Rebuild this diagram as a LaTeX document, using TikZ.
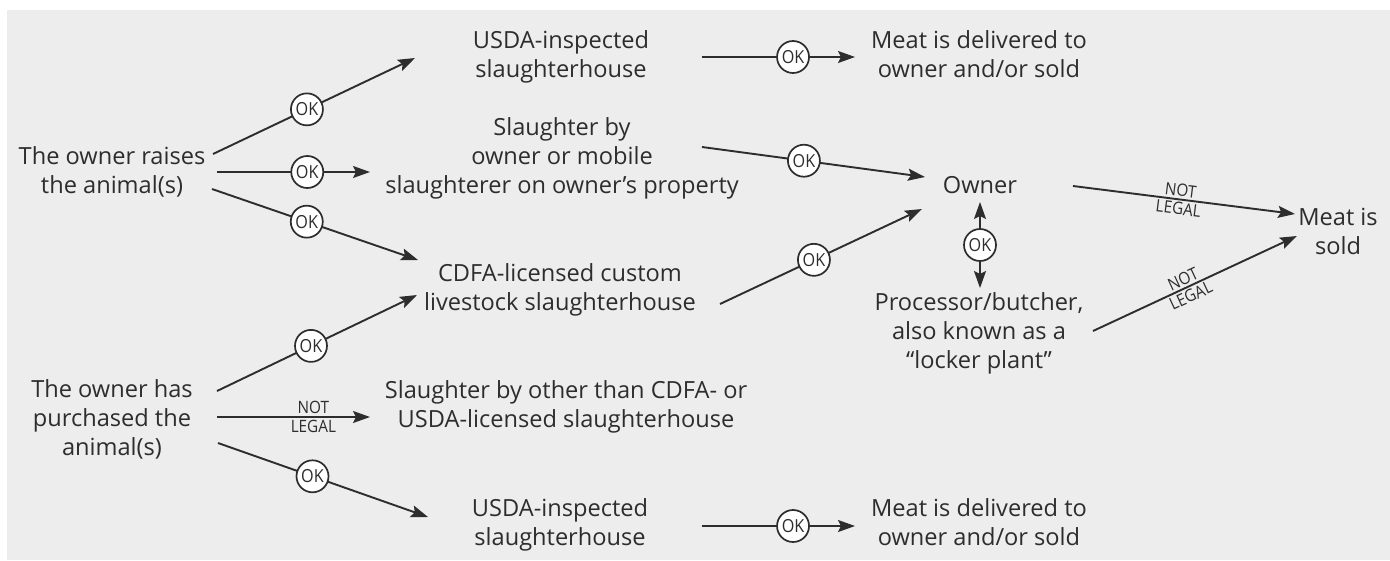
\documentclass[tikz,border=0pt]{standalone}
\usepackage{fontspec}
\setmainfont{Open Sans}
\newfontfamily\condf[FakeStretch=0.9]{Open Sans}
\usetikzlibrary{arrows.meta,calc}
\definecolor{bgc}{RGB}{237,237,237}
\definecolor{ink}{RGB}{45,45,45}
\tikzset{
  txt/.style={align=center, text=ink, font=\fontsize{23.6}{28.6}\selectfont, inner sep=0pt, anchor=base},
  >={Stealth[length=17pt,width=12pt,inset=3pt]},
  conn/.style={draw=ink, line width=1.9pt, ->},
  biconn/.style={draw=ink, line width=1.9pt, <->},
  okc/.style={circle, draw=ink, fill=white, line width=1.7pt, minimum size=32pt, inner sep=0pt, text=ink, font=\condf\fontsize{18}{18}\selectfont},
  nl/.style={text=ink, font=\condf\fontsize{17}{17}\selectfont, inner sep=2pt}
}
\begin{document}
\begin{tikzpicture}[x=1pt,y=-1pt]
\useasboundingbox (0,0) rectangle (1390,560);
\fill[bgc] (7,10) rectangle (1390,560);

\node[txt] (raise) at (112,193) {The owner raises\\the animal(s)};
\node[txt] (usdaA) at (561,77) {USDA-inspected\\slaughterhouse};
\node[txt] (meatA) at (979,77) {Meat is delivered to\\owner and/or sold};
\node[txt] (self) at (562,193) {Slaughter by\\owner or mobile\\slaughterer on owner’s property};
\node[txt] (cdfa) at (560,310) {CDFA-licensed custom\\livestock slaughterhouse};
\node[txt] (owner) at (980,193) {Owner};
\node[txt] (proc) at (979,368) {Processor/butcher,\\also known as a\\“locker plant”};
\node[txt] (sold) at (1338,254) {Meat is\\sold};
\node[txt] (purch) at (112,455) {The owner has\\purchased the\\animal(s)};
\node[txt] (other) at (566,427) {Slaughter by other than CDFA- or\\USDA-licensed slaughterhouse};
\node[txt] (usdaB) at (560,545) {USDA-inspected\\slaughterhouse};
\node[txt] (meatB) at (979,545) {Meat is delivered to\\owner and/or sold};

\draw[conn] ($(raise.base)+(101,-39)$) -- node[okc,pos=0.465] (ok1) {OK} ($(usdaA.base)+(-146,-19)$);
\draw[conn] ($(raise.base)+(105,-21)$) -- node[okc,pos=0.59] (ok2) {OK} ($(self.base)+(-192,-21)$);
\draw[conn] ($(raise.base)+(100,-4)$) -- node[okc,pos=0.46] (ok3) {OK} ($(cdfa.base)+(-142,-50)$);
\draw[conn] ($(usdaA.base)+(141,-20)$) -- node[okc,pos=0.595] (ok4) {OK} ($(meatA.base)+(-124,-20)$);
\draw[conn] ($(self.base)+(140,-46)$) -- node[okc,pos=0.457] (ok5) {OK} ($(owner.base)+(-55,-16)$);
\draw[conn] ($(cdfa.base)+(160,-6)$) -- node[okc,pos=0.465] (ok6) {OK} ($(owner.base)+(-58,16)$);
\draw[biconn] ($(owner.base)+(0,9)$) -- node[okc,pos=0.5] (ok7) {OK} ($(proc.base)+(1,-80)$);
\draw[conn] ($(owner.base)+(93,-7)$) -- node[nl,sloped,above,pos=0.48] (nl1a) {NOT} node[nl,sloped,below,pos=0.48] (nl1b) {LEGAL} ($(sold.base)+(-43,-40)$);
\draw[conn] ($(proc.base)+(114,-37)$) -- node[nl,sloped,above,pos=0.46] (nl2a) {NOT} node[nl,sloped,below,pos=0.46] (nl2b) {LEGAL} ($(sold.base)+(-41,-18)$);
\draw[conn] ($(purch.base)+(105,-64)$) -- node[okc,pos=0.47] (ok8) {OK} ($(cdfa.base)+(-143,-15)$);
\draw[conn] ($(purch.base)+(105,-38)$) -- node[nl,above,pos=0.63] (nl3a) {NOT} node[nl,below,pos=0.63] (nl3b) {LEGAL} ($(other.base)+(-196,-10)$);
\draw[conn] ($(purch.base)+(106,-12)$) -- node[okc,pos=0.45] (ok9) {OK} ($(usdaB.base)+(-132,-28)$);
\draw[conn] ($(usdaB.base)+(142,-19)$) -- node[okc,pos=0.595] (ok10) {OK} ($(meatB.base)+(-124,-19)$);
\end{tikzpicture}
\end{document}
